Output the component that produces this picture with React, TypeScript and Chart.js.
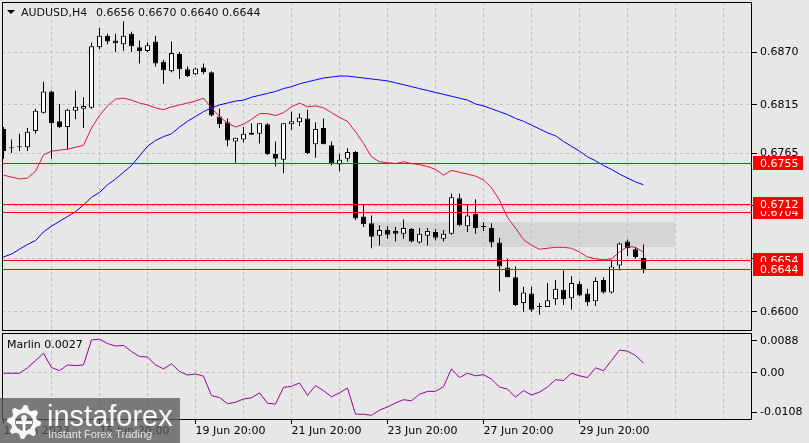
import React, { useEffect, useRef } from 'react';
import { Chart, registerables } from 'chart.js';

Chart.register(...registerables);

// ---------------- data ----------------
const symbolTitle = 'AUDUSD,H4';

const opens = [
  0.6790, 0.6770, 0.6772, 0.6771, 0.6788, 0.6807, 0.6829, 0.6798, 0.6792, 0.6809,
  0.6811, 0.6812, 0.6875, 0.6887, 0.6882, 0.6878, 0.6889, 0.6875, 0.6871, 0.6881,
  0.6860, 0.6850, 0.6868, 0.6852, 0.6847, 0.6854, 0.6849, 0.6803, 0.6797, 0.6777,
  0.6779, 0.6786, 0.6785, 0.6795, 0.6764, 0.6758, 0.6795, 0.6797, 0.6801, 0.6774,
  0.6791, 0.6773, 0.6753, 0.6759, 0.6766, 0.6699, 0.6692, 0.6679, 0.6685, 0.6684,
  0.6681, 0.6686, 0.6672, 0.6679, 0.6683, 0.6676, 0.6681, 0.6718, 0.6689, 0.6702,
  0.6688, 0.6687, 0.6672, 0.6646, 0.6636, 0.6609, 0.6619, 0.6605, 0.6605, 0.6613,
  0.6623, 0.6614, 0.6629, 0.6619, 0.6611, 0.6633, 0.6620, 0.6648, 0.6673, 0.6665,
  0.6656,
];
const highs = [
  0.6792, 0.6779, 0.6785, 0.6791, 0.6811, 0.6839, 0.6830, 0.6816, 0.6811, 0.6830,
  0.6823, 0.6880, 0.6895, 0.6889, 0.6889, 0.6902, 0.6891, 0.6882, 0.6880, 0.6887,
  0.6862, 0.6881, 0.6870, 0.6855, 0.6854, 0.6858, 0.6850, 0.6811, 0.6801, 0.6781,
  0.6792, 0.6796, 0.6796, 0.6796, 0.6777, 0.6796, 0.6808, 0.6806, 0.6810, 0.6797,
  0.6801, 0.6777, 0.6764, 0.6770, 0.6767, 0.6711, 0.6700, 0.6690, 0.6689, 0.6688,
  0.6696, 0.6687, 0.6687, 0.6687, 0.6686, 0.6685, 0.6723, 0.6723, 0.6711, 0.6717,
  0.6693, 0.6692, 0.6677, 0.6655, 0.6647, 0.6626, 0.6626, 0.6609, 0.6630, 0.6633,
  0.6643, 0.6637, 0.6632, 0.6624, 0.6636, 0.6636, 0.6654, 0.6672, 0.6675, 0.6667,
  0.6670,
];
const lows = [
  0.6759, 0.6765, 0.6767, 0.6767, 0.6785, 0.6806, 0.6759, 0.6791, 0.6769, 0.6800,
  0.6791, 0.6811, 0.6873, 0.6878, 0.6870, 0.6871, 0.6870, 0.6858, 0.6870, 0.6855,
  0.6837, 0.6849, 0.6842, 0.6844, 0.6846, 0.6847, 0.6803, 0.6791, 0.6772, 0.6755,
  0.6776, 0.6784, 0.6775, 0.6763, 0.6751, 0.6744, 0.6789, 0.6793, 0.6764, 0.6760,
  0.6774, 0.6752, 0.6746, 0.6756, 0.6695, 0.6688, 0.6666, 0.6669, 0.6676, 0.6673,
  0.6676, 0.6672, 0.6671, 0.6669, 0.6674, 0.6673, 0.6680, 0.6689, 0.6683, 0.6681,
  0.6684, 0.6667, 0.6621, 0.6636, 0.6606, 0.6600, 0.6600, 0.6597, 0.6605, 0.6607,
  0.6607, 0.6602, 0.6616, 0.6606, 0.6606, 0.6619, 0.6619, 0.6643, 0.6658, 0.6655,
  0.6640,
];
const closes = [
  0.6767, 0.6770, 0.6771, 0.6787, 0.6809, 0.6829, 0.6796, 0.6792, 0.6810, 0.6813,
  0.6814, 0.6876, 0.6887, 0.6881, 0.6879, 0.6887, 0.6876, 0.6871, 0.6877, 0.6858,
  0.6851, 0.6869, 0.6852, 0.6845, 0.6853, 0.6849, 0.6804, 0.6795, 0.6778, 0.6781,
  0.6785, 0.6784, 0.6796, 0.6764, 0.6759, 0.6796, 0.6798, 0.6802, 0.6765, 0.6790,
  0.6774, 0.6754, 0.6758, 0.6766, 0.6697, 0.6691, 0.6678, 0.6685, 0.6680, 0.6681,
  0.6687, 0.6673, 0.6681, 0.6684, 0.6677, 0.6681, 0.6719, 0.6690, 0.6700, 0.6687,
  0.6688, 0.6672, 0.6647, 0.6636, 0.6607, 0.6620, 0.6602, 0.6606, 0.6612, 0.6624,
  0.6613, 0.6630, 0.6617, 0.6610, 0.6632, 0.6620, 0.6647, 0.6671, 0.6666, 0.6657,
  0.6644,
];
const fastMA = [
  0.6742, 0.6740, 0.6738, 0.6739, 0.6746, 0.6763, 0.6767, 0.6768, 0.6769, 0.6771,
  0.6773, 0.6791, 0.6804, 0.6814, 0.6821, 0.6822, 0.6820, 0.6817, 0.6815, 0.6812,
  0.6810, 0.6813, 0.6815, 0.6817, 0.6819, 0.6822, 0.6812, 0.6803, 0.6796, 0.6792,
  0.6795, 0.6800, 0.6806, 0.6806, 0.6804, 0.6807, 0.6813, 0.6817, 0.6813, 0.6814,
  0.6812, 0.6807, 0.6802, 0.6798, 0.6787, 0.6775, 0.6761, 0.6756, 0.6755, 0.6754,
  0.6756, 0.6754, 0.6753, 0.6751, 0.6748, 0.6742, 0.6747, 0.6745, 0.6743, 0.6741,
  0.6737, 0.6729, 0.6716, 0.6698, 0.6687, 0.6675, 0.6669, 0.6665, 0.6666, 0.6667,
  0.6667, 0.6666, 0.6662, 0.6657, 0.6655, 0.6654, 0.6655, 0.6662, 0.6668, 0.6667,
  0.6662,
];
const slowMA = [
  0.6657, 0.6660, 0.6665, 0.6670, 0.6674, 0.6683, 0.6689, 0.6694, 0.6699, 0.6704,
  0.6711, 0.6719, 0.6724, 0.6732, 0.6738, 0.6745, 0.6752, 0.6762, 0.6772, 0.6778,
  0.6782, 0.6785, 0.6792, 0.6798, 0.6803, 0.6808, 0.6812, 0.6815, 0.6817, 0.6819,
  0.6820, 0.6823, 0.6825, 0.6827, 0.6829, 0.6832, 0.6834, 0.6837, 0.6839, 0.6841,
  0.6843, 0.6844, 0.6845, 0.6845, 0.6844, 0.6843, 0.6842, 0.6841, 0.6840, 0.6838,
  0.6836, 0.6834, 0.6832, 0.6830, 0.6828, 0.6826, 0.6824, 0.6822, 0.6820, 0.6816,
  0.6814, 0.6811, 0.6808, 0.6805, 0.6801, 0.6798, 0.6794, 0.6790, 0.6786, 0.6783,
  0.6777, 0.6772, 0.6767, 0.6761, 0.6757, 0.6752, 0.6748, 0.6743, 0.6739, 0.6735,
  0.6732,
];
const marlin = [
  -0.0001, -0.0001, -0.0001, 0.0014, 0.0034, 0.0054, 0.0015, 0.0006, 0.0022, 0.0020,
  0.0022, 0.0091, 0.0093, 0.0081, 0.0074, 0.0076, 0.0059, 0.0045, 0.0044, 0.0022,
  0.0011, 0.0025, 0.0004, -0.0006, -0.0003, -0.0009, -0.0063, -0.0068, -0.0085, -0.0081,
  -0.0072, -0.0069, -0.0055, -0.0084, -0.0086, -0.0040, -0.0037, -0.0028, -0.0062, -0.0035,
  -0.0049, -0.0066, -0.0055, -0.0042, -0.0114, -0.0114, -0.0117, -0.0103, -0.0094, -0.0083,
  -0.0074, -0.0077, -0.0059, -0.0051, -0.0051, -0.0038, 0.0011, -0.0013, -0.0001, -0.0008,
  -0.0005, -0.0017, -0.0039, -0.0045, -0.0067, -0.0049, -0.0061, -0.0053, -0.0039, -0.0019,
  -0.0021, -0.0001, -0.0008, -0.0013, 0.0014, 0.0006, 0.0034, 0.0063, 0.0060, 0.0048,
  0.0027,
];

const levelPrices = [0.6755, 0.6704, 0.6712, 0.6654, 0.6644];
const zoneBars = [46.2, 83.9];
const zonePrices = [0.6667, 0.6693];

const priceTicks = [0.6600, 0.6655, 0.6710, 0.6765, 0.6815, 0.6870];
const marlinTicks = [-0.0108, 0, 0.0088];
const marlinTickLabels = ['-0.0108', '0.00', '0.0088'];
const gridBars = [0, 6, 12, 18, 24, 30, 36, 42, 48, 54, 60, 66, 72, 78, 84, 90];
const xTickBars = [0, 12, 24, 36, 48, 60, 72];
const xTickLabels = ['13 Jun 2023', '15 Jun 20:00', '19 Jun 20:00', '21 Jun 20:00', '23 Jun 20:00', '27 Jun 20:00', '29 Jun 20:00'];

// ---------------- styling ----------------
const BG = '#e7e7e7';
const GRID = '#bfbfbf';
const FONT_FAMILY = 'DejaVu Sans';
const X_MIN = -0.1875;
const X_MAX = 93.5625;

const noPad = (s: any) => {
  s.paddingTop = 0;
  s.paddingBottom = 0;
  s.paddingLeft = 0;
  s.paddingRight = 0;
};

export default function App() {
  const topRef = useRef<HTMLCanvasElement>(null);
  const botRef = useRef<HTMLCanvasElement>(null);

  useEffect(() => {
    document.body.style.margin = '0';
    const idx = closes.map((_, i) => i);
    const font = { family: FONT_FAMILY, size: 11 };
    const n = closes.length;

    const topPlugin = {
      id: 'topDecor',
      beforeDraw(chart: any) {
        const { ctx, scales } = chart;
        const x0 = scales.x.getPixelForValue(zoneBars[0]);
        const x1 = scales.x.getPixelForValue(zoneBars[1]);
        const y0 = scales.y.getPixelForValue(zonePrices[1]);
        const y1 = scales.y.getPixelForValue(zonePrices[0]);
        ctx.save();
        ctx.fillStyle = '#d5d5d5';
        ctx.fillRect(Math.round(x0), Math.round(y0), Math.round(x1 - x0), Math.round(y1 - y0));
        ctx.restore();
      },
      afterDatasetsDraw(chart: any) {
        const { ctx, chartArea, scales } = chart;
        ctx.save();
        ctx.strokeStyle = '#ff0000';
        ctx.lineWidth = 1;
        levelPrices.forEach((p) => {
          const y = Math.round(scales.y.getPixelForValue(p)) + 0.5;
          ctx.beginPath();
          ctx.moveTo(chartArea.left, y);
          ctx.lineTo(chartArea.right, y);
          ctx.stroke();
        });
        ctx.restore();
      },
      afterDraw(chart: any) {
        const { ctx, chartArea, scales } = chart;
        ctx.save();
        ctx.strokeStyle = '#000';
        ctx.lineWidth = 1;
        ctx.strokeRect(chartArea.left + 0.5, chartArea.top + 0.5, chartArea.right - chartArea.left - 1, chartArea.bottom - chartArea.top - 1);
        ctx.font = `11px "${FONT_FAMILY}"`;
        ctx.textBaseline = 'middle';
        ctx.textAlign = 'left';
        levelPrices.forEach((p) => {
          const y = Math.round(scales.y.getPixelForValue(p));
          ctx.fillStyle = '#ff0000';
          ctx.fillRect(753, y - 7, 50, 14);
          ctx.fillStyle = '#ffffff';
          ctx.fillText(p.toFixed(4), 760, y + 1);
        });
        ctx.fillStyle = '#000';
        ctx.beginPath();
        ctx.moveTo(7, 10);
        ctx.lineTo(15, 10);
        ctx.lineTo(11, 14);
        ctx.closePath();
        ctx.fill();
        ctx.fillStyle = '#101010';
        ctx.fillText(symbolTitle, 21, 13);
        const ohlc = [opens[n - 1], highs[n - 1], lows[n - 1], closes[n - 1]].map((v) => v.toFixed(4)).join(' ');
        ctx.fillText(ohlc, 96, 13);
        ctx.restore();
      },
    };

    const top = new Chart(topRef.current as HTMLCanvasElement, {
      type: 'bar',
      data: {
        datasets: [
          {
            type: 'line',
            data: idx.map((i) => ({ x: i, y: fastMA[i] })),
            borderColor: '#e0143c',
            borderWidth: 1,
            pointRadius: 0,
            order: 0,
          } as any,
          {
            type: 'line',
            data: idx.map((i) => ({ x: i, y: slowMA[i] })),
            borderColor: '#0000ff',
            borderWidth: 1,
            pointRadius: 0,
            order: 0,
          } as any,
          {
            type: 'bar',
            data: idx.map((i) => ({ x: i, y: [opens[i], closes[i]] })),
            backgroundColor: idx.map((i) => (closes[i] > opens[i] ? '#ffffff' : '#000000')),
            borderColor: '#000000',
            borderWidth: 1,
            borderSkipped: false,
            barThickness: 5,
            grouped: false,
            minBarLength: 1,
            inflateAmount: 0,
            order: 1,
          } as any,
          {
            type: 'bar',
            data: idx.map((i) => ({ x: i, y: [lows[i], highs[i]] })),
            backgroundColor: '#000000',
            borderWidth: 0,
            barThickness: 1,
            grouped: false,
            inflateAmount: 0,
            order: 2,
          } as any,
        ],
      },
      options: {
        responsive: false,
        animation: false,
        events: [],
        layout: { padding: { left: 2, top: 2, right: 0, bottom: 1 } },
        plugins: { legend: { display: false }, tooltip: { enabled: false } },
        scales: {
          x: {
            type: 'linear',
            min: X_MIN,
            max: X_MAX,
            offset: false,
            afterBuildTicks: (s: any) => {
              s.ticks = gridBars.map((v) => ({ value: v }));
            },
            afterFit: (s: any) => {
              s.height = 0;
              noPad(s);
            },
            ticks: { display: false },
            grid: {
              offset: false,
              drawTicks: false,
              color: (c: any) => (c.tick && c.tick.value === 0 ? 'transparent' : GRID),
            },
            border: { display: false, dash: [3, 3] },
          } as any,
          y: {
            position: 'right',
            min: 0.6580,
            max: 0.6922,
            afterBuildTicks: (s: any) => {
              s.ticks = priceTicks.map((v) => ({ value: v }));
            },
            afterFit: (s: any) => {
              s.width = 57;
              noPad(s);
            },
            ticks: {
              font,
              color: '#000',
              padding: 3,
              autoSkip: false,
              callback: (v: any) => Number(v).toFixed(4),
            },
            grid: { color: GRID, tickColor: '#000', tickLength: 5, tickBorderDash: [] },
            border: { display: false, dash: [3, 3] },
          } as any,
        },
      },
      plugins: [topPlugin],
    });

    const drawGear = (ctx: CanvasRenderingContext2D, cx: number, cy: number) => {
      const teeth = 8;
      const rO = 17;
      const rI = 13;
      ctx.beginPath();
      for (let k = 0; k < teeth * 4; k++) {
        const a = (k / (teeth * 4)) * Math.PI * 2 - Math.PI / 2;
        const r = k % 4 === 0 || k % 4 === 1 ? rO : rI;
        const px = cx + r * Math.cos(a);
        const py = cy + r * Math.sin(a);
        if (k === 0) ctx.moveTo(px, py);
        else ctx.lineTo(px, py);
      }
      ctx.closePath();
      ctx.moveTo(cx + 9, cy);
      ctx.arc(cx, cy, 9, 0, Math.PI * 2, true);
      ctx.fill('evenodd');
      ctx.beginPath();
      ctx.arc(cx, cy - 4, 3, 0, Math.PI * 2);
      ctx.fill();
      ctx.fillRect(cx - 1.5, cy - 2, 3, 12);
      ctx.fillRect(cx - 8, cy - 1, 16, 3);
    };

    const botPlugin = {
      id: 'botDecor',
      afterDraw(chart: any) {
        const { ctx, chartArea } = chart;
        ctx.save();
        ctx.strokeStyle = '#000';
        ctx.lineWidth = 1;
        ctx.strokeRect(chartArea.left + 0.5, chartArea.top + 0.5, chartArea.right - chartArea.left - 1, chartArea.bottom - chartArea.top - 1);
        ctx.font = `11px "${FONT_FAMILY}"`;
        ctx.textBaseline = 'middle';
        ctx.textAlign = 'left';
        ctx.fillStyle = '#000';
        ctx.fillText('Marlin ' + marlin[marlin.length - 1].toFixed(4), 7, 13);
        ctx.fillStyle = 'rgba(88,88,88,0.76)';
        ctx.fillRect(0, 66, 180, 45);
        ctx.fillStyle = 'rgba(255,255,255,0.95)';
        drawGear(ctx, 24, 90);
        ctx.font = '29px "Liberation Sans"';
        ctx.textBaseline = 'alphabetic';
        ctx.fillText('instaforex', 47, 94);
        ctx.fillStyle = 'rgba(235,235,235,0.95)';
        ctx.font = '11px "Liberation Sans"';
        ctx.fillText('Instant Forex Trading', 48, 106);
        ctx.restore();
      },
    };

    const bot = new Chart(botRef.current as HTMLCanvasElement, {
      type: 'line',
      data: {
        datasets: [
          {
            data: idx.map((i) => ({ x: i, y: marlin[i] })),
            borderColor: '#990099',
            borderWidth: 1,
            pointRadius: 0,
          },
        ],
      },
      options: {
        responsive: false,
        animation: false,
        events: [],
        layout: { padding: { left: 2, top: 1, right: 0, bottom: 0 } },
        plugins: { legend: { display: false }, tooltip: { enabled: false } },
        scales: {
          x: {
            type: 'linear',
            min: X_MIN,
            max: X_MAX,
            offset: false,
            afterBuildTicks: (s: any) => {
              s.ticks = gridBars.map((v) => ({ value: v }));
            },
            afterFit: (s: any) => {
              s.height = 23;
              noPad(s);
            },
            ticks: {
              font,
              color: '#000',
              align: 'start',
              autoSkip: false,
              maxRotation: 0,
              minRotation: 0,
              padding: 1,
              callback: (v: any) => {
                const k = xTickBars.indexOf(Number(v));
                return k >= 0 ? xTickLabels[k] : '';
              },
            },
            grid: {
              offset: false,
              color: (c: any) => (c.tick && c.tick.value === 0 ? 'transparent' : GRID),
              tickColor: (c: any) => (c.tick && xTickBars.indexOf(c.tick.value) >= 0 ? '#000' : 'transparent'),
              tickLength: 4,
              tickBorderDash: [],
            },
            border: { display: false, dash: [3, 3] },
          } as any,
          y: {
            position: 'right',
            min: -0.013,
            max: 0.011,
            afterBuildTicks: (s: any) => {
              s.ticks = marlinTicks.map((v) => ({ value: v }));
            },
            afterFit: (s: any) => {
              s.width = 57;
              noPad(s);
            },
            ticks: {
              font,
              color: '#000',
              padding: 3,
              autoSkip: false,
              callback: (v: any) => {
                const k = marlinTicks.indexOf(Number(v));
                return k >= 0 ? marlinTickLabels[k] : '';
              },
            },
            grid: {
              color: (c: any) => (c.tick && c.tick.value === 0 ? GRID : 'transparent'),
              tickColor: '#000',
              tickLength: 5,
              tickBorderDash: [],
            },
            border: { display: false, dash: [3, 3] },
          } as any,
        },
      },
      plugins: [botPlugin],
    });

    return () => {
      top.destroy();
      bot.destroy();
    };
  }, []);

  return (
    <div style={{ position: 'relative', width: 809, height: 443, background: BG, overflow: 'hidden' }}>
      <canvas ref={topRef} width={809} height={332} style={{ position: 'absolute', left: 0, top: 0, display: 'block' }} />
      <canvas ref={botRef} width={809} height={111} style={{ position: 'absolute', left: 0, top: 332, display: 'block' }} />
    </div>
  );
}
